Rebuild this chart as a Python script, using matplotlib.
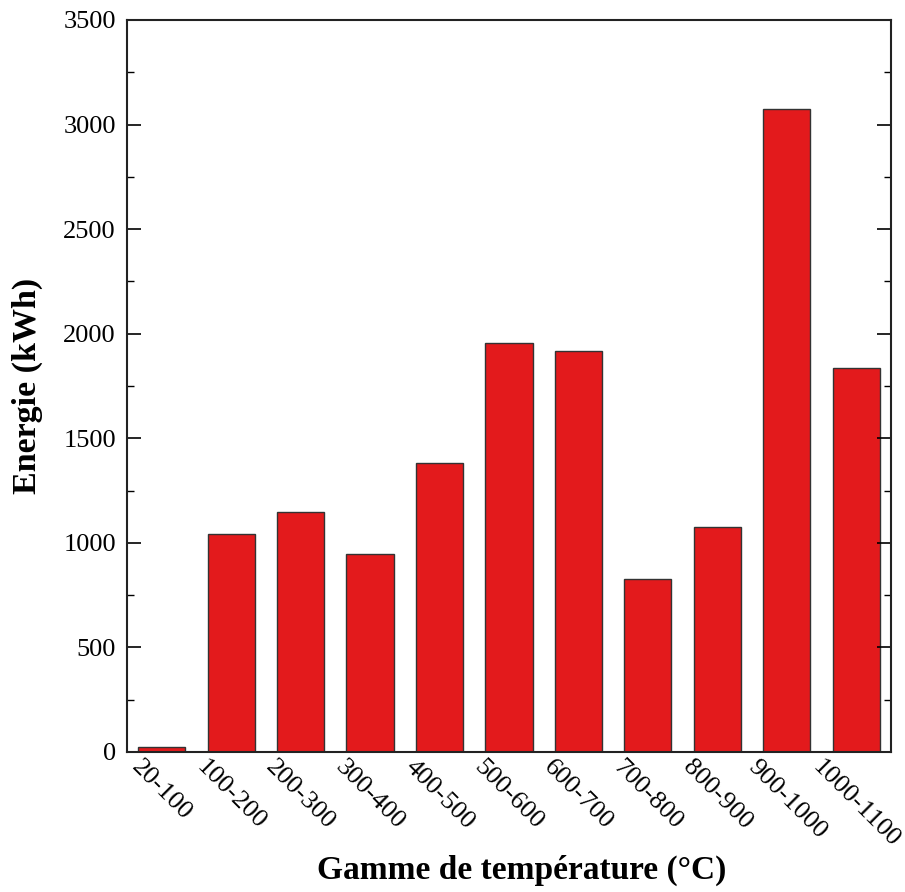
import matplotlib
matplotlib.use("Agg")
import matplotlib.pyplot as plt
from matplotlib.ticker import MultipleLocator
from matplotlib.transforms import ScaledTranslation

# energy per temperature range
categories = ["20-100", "100-200", "200-300", "300-400", "400-500", "500-600",
              "600-700", "700-800", "800-900", "900-1000", "1000-1100"]
energy_kwh = [25, 1040, 1145, 945, 1380, 1955, 1918, 825, 1075, 3072, 1838]
y_ticks = [0, 500, 1000, 1500, 2000, 2500, 3000, 3500]

plt.rcParams['font.family'] = ['Liberation Serif', 'DejaVu Serif']

fig = plt.figure(figsize=(9.05, 8.92), dpi=100)
ax = fig.add_axes([0.1403, 0.157, 0.8442, 0.8206])

x = list(range(len(categories)))
ax.bar(x, energy_kwh, width=0.68, color="#e31a1c", edgecolor="#333333", linewidth=1.0)

ax.set_xlim(-0.5, len(categories) - 0.5)
ax.set_ylim(0, 3500)
ax.set_yticks(y_ticks)
ax.yaxis.set_minor_locator(MultipleLocator(250))

ax.set_xticks(x)
ax.set_xticklabels(categories, rotation=-45, ha="center", va="top", fontsize=19)
# nudge the slanted labels a little to the left, as in the reference
shift = ScaledTranslation(-5 / 100, 0, fig.dpi_scale_trans)
for lbl in ax.get_xticklabels():
    lbl.set_transform(lbl.get_transform() + shift)

ax.tick_params(axis="y", which="major", direction="in", length=10, width=1.2,
               left=True, right=True, labelsize=19, pad=8)
ax.tick_params(axis="y", which="minor", direction="in", length=5, width=1.0,
               left=True, right=True)
ax.tick_params(axis="x", which="both", length=0, pad=3)

for side in ax.spines.values():
    side.set_linewidth(1.5)
    side.set_color("#222222")

ax.set_xlabel("Gamme de température (°C)", fontsize=24, fontweight="bold")
ax.set_ylabel("Energie (kWh)", fontsize=24.5, fontweight="bold")
ax.xaxis.set_label_coords(0.516, -0.14)
ax.yaxis.set_label_coords(-0.110, 0.5)

fig.savefig("out.png", dpi=100)
